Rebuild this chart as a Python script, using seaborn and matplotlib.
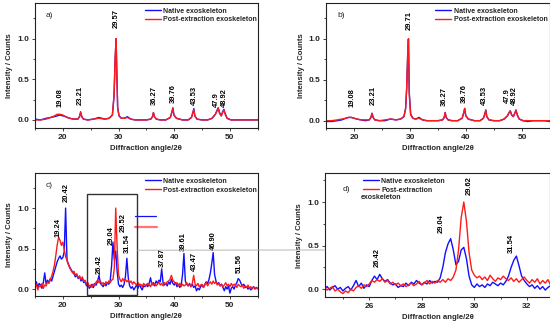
import numpy as np
import matplotlib
matplotlib.use("Agg")
import matplotlib.pyplot as plt
from matplotlib.patches import Rectangle, ConnectionPatch
from matplotlib.ticker import MultipleLocator
import seaborn as sns

BLUE = "#1010ff"
RED = "#ff1a1a"

# --- panels a) and b): shared 2theta grid (denser around the sharp reflections)
ab_x = [15, 16, 17, 17.8, 18.5, 19, 19.5, 20, 20.5, 21.2,
        22, 22.7, 23.0, 23.2, 23.4, 23.7, 24.5, 25.5, 26.5, 27.5,
        28.3, 28.9, 29.2, 29.4, 29.57, 29.71, 29.85, 30.1, 30.5, 31,
        31.6, 32.2, 33, 34, 35, 35.8, 36.1, 36.27, 36.45, 36.8,
        37.5, 38.5, 39.3, 39.6, 39.76, 39.95, 40.4, 41.5, 42.5, 43.1,
        43.35, 43.53, 43.7, 44.1, 45, 46, 46.8, 47.4, 47.7, 47.9,
        48.15, 48.45, 48.7, 48.92, 49.15, 49.5, 50.2, 51, 52, 53,
        54, 55]

a_native = [0.01, 0.00, 0.02, 0.03, 0.04, 0.05, 0.06, 0.05, 0.04, 0.02,
            0.01, 0.01, 0.04, 0.10, 0.04, 0.01, 0.00, 0.01, 0.03, 0.01,
            0.02, 0.06, 0.30, 0.75, 1.00, 0.55, 0.15, 0.05, 0.02, 0.02,
            0.04, 0.01, 0.00, 0.00, 0.00, 0.01, 0.04, 0.09, 0.04, 0.01,
            0.00, 0.00, 0.03, 0.10, 0.15, 0.06, 0.02, 0.00, 0.00, 0.03,
            0.09, 0.14, 0.05, 0.01, 0.00, 0.00, 0.02, 0.07, 0.12, 0.15,
            0.09, 0.05, 0.10, 0.13, 0.08, 0.02, 0.00, 0.00, 0.00, 0.00,
            0.00, 0.00]
a_post = [0.00, 0.00, 0.01, 0.03, 0.05, 0.07, 0.07, 0.06, 0.04, 0.02,
          0.01, 0.01, 0.04, 0.09, 0.04, 0.01, 0.00, 0.01, 0.02, 0.01,
          0.02, 0.06, 0.30, 0.78, 1.00, 0.50, 0.14, 0.05, 0.02, 0.02,
          0.03, 0.01, 0.00, 0.00, 0.00, 0.01, 0.04, 0.09, 0.04, 0.01,
          0.00, 0.00, 0.03, 0.10, 0.14, 0.06, 0.02, 0.00, 0.00, 0.03,
          0.09, 0.13, 0.05, 0.01, 0.00, 0.00, 0.02, 0.07, 0.11, 0.14,
          0.08, 0.05, 0.09, 0.12, 0.07, 0.02, 0.00, 0.00, 0.00, 0.00,
          0.00, 0.00]
b_native = [-0.01, -0.01, 0.00, 0.01, 0.03, 0.04, 0.04, 0.03, 0.02, 0.01,
            0.00, 0.01, 0.04, 0.09, 0.04, 0.01, 0.00, 0.00, 0.02, 0.01,
            0.02, 0.05, 0.15, 0.40, 0.80, 1.00, 0.35, 0.08, 0.03, 0.02,
            0.04, 0.01, 0.00, 0.00, 0.00, 0.01, 0.04, 0.10, 0.04, 0.01,
            0.00, 0.00, 0.03, 0.10, 0.15, 0.06, 0.02, 0.00, 0.00, 0.03,
            0.08, 0.13, 0.05, 0.01, 0.00, 0.00, 0.02, 0.06, 0.10, 0.12,
            0.07, 0.05, 0.09, 0.13, 0.07, 0.02, 0.00, -0.01, 0.00, 0.00,
            0.00, -0.01]
b_post = [0.00, 0.00, 0.01, 0.02, 0.03, 0.04, 0.04, 0.03, 0.02, 0.01,
          0.01, 0.01, 0.04, 0.09, 0.04, 0.01, 0.00, 0.01, 0.02, 0.01,
          0.02, 0.05, 0.15, 0.42, 0.82, 1.00, 0.32, 0.07, 0.03, 0.02,
          0.03, 0.01, 0.00, 0.00, 0.00, 0.01, 0.04, 0.10, 0.04, 0.01,
          0.00, 0.00, 0.03, 0.10, 0.15, 0.06, 0.02, 0.00, 0.00, 0.03,
          0.08, 0.13, 0.05, 0.01, 0.00, 0.00, 0.02, 0.06, 0.10, 0.12,
          0.07, 0.05, 0.09, 0.13, 0.07, 0.02, 0.00, 0.00, 0.00, 0.00,
          0.00, 0.00]

# --- panel c): 15..55 in 0.25 deg steps, one row per degree
c_x = 15 + 0.25 * np.arange(161)
c_native = [0.04, 0.09, 0.02, 0.07,  0.05, 0.01, 0.08, 0.20,  0.06, 0.11, 0.08, 0.13,
            0.10, 0.16, 0.22, 0.28,  0.34, 0.38, 0.41, 0.37,  0.39, 0.46, 1.00, 0.36,
            0.31, 0.27, 0.24, 0.21,  0.19, 0.15, 0.18, 0.13,  0.16, 0.10, 0.13, 0.08,
            0.09, 0.04, 0.06, 0.01,  0.03, 0.06, 0.02, 0.07,  0.05, 0.10, 0.17, 0.07,
            0.05, 0.03, 0.07, 0.04,  0.08, 0.06, 0.10, 0.28,  0.58, 0.36, 0.47, 0.22,
            0.06, 0.03, 0.05, 0.02,  0.06, 0.16, 0.38, 0.14,  0.04, 0.01, 0.03, -0.01,
            0.02, 0.05, 0.01, 0.06,  0.02, -0.01, 0.04, 0.03,  0.06, 0.03, 0.07, 0.14,
            0.05, 0.08, 0.04, 0.10,  0.07, 0.11, 0.09, 0.25,  0.08, 0.05, 0.07, 0.04,
            0.09, 0.06, 0.12, 0.07,  0.05, 0.08, 0.03, 0.06,  0.02, 0.05, 0.18, 0.44,
            0.10, 0.06, 0.04, 0.07,  0.03, 0.06, 0.02, 0.04,  -0.02, 0.01, -0.01, 0.03,
            0.05, 0.02, 0.06, 0.09,  0.07, 0.12, 0.20, 0.32,  0.45, 0.18, 0.10, 0.06,
            0.08, 0.04, 0.06, 0.02,  -0.02, 0.03, 0.00, 0.04,  -0.05, 0.01, 0.03, 0.00,
            0.05, 0.08, 0.13, 0.11,  0.07, 0.04, 0.06, 0.02,  0.03, 0.00, 0.02, -0.01,
            0.01, 0.03, 0.00, 0.02,  0.01]
c_post = [0.02, 0.06, -0.01, 0.04,  0.03, 0.07, 0.01, 0.05,  0.04, 0.09, 0.07, 0.12,
          0.16, 0.22, 0.30, 0.42,  0.55, 0.64, 0.60, 0.54,  0.58, 0.49, 0.40, 0.35,
          0.30, 0.26, 0.23, 0.20,  0.22, 0.17, 0.19, 0.14,  0.16, 0.12, 0.15, 0.10,
          0.11, 0.06, 0.08, 0.03,  0.05, 0.02, 0.06, 0.04,  0.09, 0.11, 0.08, 0.10,
          0.06, 0.08, 0.05, 0.09,  0.07, 0.10, 0.08, 0.11,  0.12, 0.26, 1.00, 0.52,
          0.18, 0.12, 0.09, 0.13,  0.10, 0.12, 0.09, 0.11,  0.08, 0.10, 0.06, 0.09,
          0.07, 0.05, 0.08, 0.04,  0.06, 0.03, 0.07, 0.05,  0.04, 0.07, 0.05, 0.03,
          0.08, 0.05, 0.07, 0.04,  0.06, 0.09, 0.05, 0.07,  0.04, 0.08, 0.06, 0.09,
          0.10, 0.12, 0.17, 0.11,  0.09, 0.06, 0.08, 0.04,  0.07, 0.03, 0.06, 0.04,
          0.05, 0.08, 0.04, 0.06,  0.03, 0.07, 0.17, 0.06,  0.04, 0.07, 0.03, 0.05,
          0.06, 0.02, 0.05, 0.08,  0.04, 0.07, 0.09, 0.06,  0.10, 0.07, 0.09, 0.05,
          0.07, 0.04, 0.06, 0.03,  0.05, 0.08, 0.04, 0.06,  0.03, 0.07, 0.04, 0.06,
          0.05, 0.02, 0.06, 0.04,  0.03, 0.05, 0.01, 0.04,  0.02, 0.05, 0.01, 0.03,
          0.00, 0.03, 0.01, 0.02,  0.00]

# --- panel d): zoom 24.3..33.4 in 0.1 deg steps
d_x = np.round(24.3 + 0.1 * np.arange(92), 2)
d_native = [0.01, 0.03, -0.01, 0.02, 0.04, 0.00, 0.02, -0.02, 0.01, 0.03,
            -0.01, 0.04, 0.10, 0.03, 0.07, 0.01, 0.05, 0.03, 0.10, 0.15,
            0.11, 0.17, 0.12, 0.09, 0.11, 0.07, 0.05, 0.06, 0.02, 0.04,
            0.03, 0.07, 0.04, 0.08, 0.06, 0.10, 0.07, 0.05, 0.08, 0.06,
            0.10, 0.07, 0.09, 0.08, 0.13, 0.25, 0.42, 0.52, 0.58, 0.45,
            0.28, 0.32, 0.45, 0.48, 0.35, 0.15, 0.05, 0.02, 0.06, 0.03,
            0.05, 0.02, 0.06, 0.04, 0.08, 0.06, 0.04, 0.07, 0.05, 0.09,
            0.15, 0.25, 0.33, 0.38, 0.27, 0.15, 0.10, 0.06, 0.03, 0.05,
            0.01, 0.04, 0.00, 0.03, -0.01, 0.02, 0.04, 0.01, 0.03, -0.01,
            0.02, -0.01]
d_post = [0.02, -0.01, 0.01, 0.03, -0.02, 0.00, -0.03, -0.05, -0.02, -0.04,
          0.00, -0.02, 0.02, 0.04, 0.01, 0.05, 0.03, 0.06, 0.10, 0.08,
          0.11, 0.09, 0.12, 0.08, 0.10, 0.06, 0.08, 0.05, 0.07, 0.04,
          0.06, 0.03, 0.05, 0.07, 0.04, 0.06, 0.09, 0.05, 0.07, 0.10,
          0.06, 0.09, 0.07, 0.10, 0.08, 0.11, 0.08, 0.12, 0.10, 0.14,
          0.22, 0.45, 0.82, 1.00, 0.78, 0.42, 0.22, 0.16, 0.13, 0.15,
          0.11, 0.14, 0.10, 0.16, 0.12, 0.09, 0.13, 0.11, 0.15, 0.12,
          0.10, 0.13, 0.09, 0.12, 0.08, 0.11, 0.14, 0.10, 0.07, 0.11,
          0.08, 0.12, 0.06, 0.10, 0.07, 0.11, 0.05, 0.09, 0.06, 0.08,
          0.04, 0.07]

# peak annotations: text, label x, label bottom (intensity units)
a_peaks = ["19.08", "23.21", "29.57", "36.27", "39.76", "43.53", "47.9", "48.92"]
a_peak_x = [19.5, 23.2, 29.6, 36.4, 39.8, 43.6, 47.6, 49.1]
a_peak_y = [0.16, 0.185, 1.13, 0.185, 0.21, 0.185, 0.16, 0.16]
b_peaks = ["19.08", "23.21", "29.71", "36.27", "39.76", "43.53", "47.9", "48.92"]
b_peak_x = [19.6, 23.4, 29.8, 36.1, 39.7, 43.3, 47.4, 48.6]
b_peak_y = [0.17, 0.195, 1.11, 0.18, 0.22, 0.195, 0.22, 0.195]
c_peaks = ["19.24", "20.42", "26.42", "29.04", "29.52", "31.54",
           "37.87", "39.61", "43.47", "46.90", "51.56"]
c_peak_x = [19.2, 20.7, 26.6, 28.7, 30.8, 31.6, 37.9, 41.6, 43.6, 47.1, 51.6]
c_peak_y = [0.64, 1.07, 0.19, 0.55, 0.70, 0.44, 0.27, 0.47, 0.22, 0.48, 0.20]
d_peaks = ["26.42", "29.04", "29.62", "31.54"]
d_peak_x = [26.3, 28.75, 29.8, 31.4]
d_peak_y = [0.25, 0.64, 1.08, 0.41]

sns.set_theme(style="white")
plt.rcParams["font.family"] = ["Liberation Sans", "DejaVu Sans"]

fig = plt.figure(figsize=(5.5, 3.25), dpi=100)
ax_a = fig.add_axes([0.0636, 0.606, 0.405, 0.385])
ax_b = fig.add_axes([0.593, 0.606, 0.407, 0.385])
ax_c = fig.add_axes([0.0636, 0.089, 0.405, 0.378])
ax_d = fig.add_axes([0.591, 0.086, 0.409, 0.381])

TICK_FS = 6.0
LABEL_FS = 5.6
PEAK_FS = 5.4
LEG_FS = 5.0


def draw_panel(ax, x, native, post, peaks, px, py, xlim, ylim, major, minor):
    sns.lineplot(x=x, y=native, color=BLUE, lw=1.0, ax=ax, label="Native exoskeleton")
    sns.lineplot(x=x, y=post, color=RED, lw=1.0, ax=ax, label="Post-extraction exoskeleton")
    for t, xx, yy in zip(peaks, px, py):
        ax.text(xx, yy, t, rotation=90, ha="center", va="bottom",
                fontsize=PEAK_FS, fontweight="bold", color="black")
    ax.set_xlim(*xlim)
    ax.set_ylim(*ylim)
    ax.xaxis.set_major_locator(MultipleLocator(major))
    ax.xaxis.set_minor_locator(MultipleLocator(minor))
    ax.yaxis.set_major_locator(MultipleLocator(0.5))
    ax.yaxis.set_minor_locator(MultipleLocator(0.25))
    ax.tick_params(which="both", direction="out", bottom=True, left=True,
                   labelsize=TICK_FS, pad=1.5, width=0.6)
    ax.tick_params(which="major", length=2.5)
    ax.tick_params(which="minor", length=1.5)
    for lab in ax.get_xticklabels() + ax.get_yticklabels():
        lab.set_fontweight("bold")
    for sp in ax.spines.values():
        sp.set_color("#222222")
        sp.set_linewidth(0.8)
    ax.set_xlabel("Diffraction angle/2θ", fontsize=LABEL_FS, fontweight="bold", labelpad=3)
    ax.set_ylabel("Intensity / Counts", fontsize=LABEL_FS, fontweight="bold", labelpad=3)


draw_panel(ax_a, ab_x, a_native, a_post, a_peaks, a_peak_x, a_peak_y,
           (15, 55), (-0.1, 1.44), 10, 5)
draw_panel(ax_b, ab_x, b_native, b_post, b_peaks, b_peak_x, b_peak_y,
           (15, 55), (-0.09, 1.44), 10, 5)
draw_panel(ax_c, c_x, c_native, c_post, c_peaks, c_peak_x, c_peak_y,
           (15, 55), (-0.086, 1.43), 10, 5)
draw_panel(ax_d, d_x, d_native, d_post, d_peaks, d_peak_x, d_peak_y,
           (24.32, 32.88), (-0.09, 1.33), 2, 1)

leg_kw = dict(frameon=False, loc="upper left", borderaxespad=0, handlelength=2.3,
              handletextpad=0.4, labelspacing=0.25,
              prop={"size": LEG_FS, "weight": "bold"})
ax_a.legend(bbox_to_anchor=(0.48, 0.985), **leg_kw)
ax_b.legend(bbox_to_anchor=(0.475, 0.985), **leg_kw)
ax_c.legend(bbox_to_anchor=(0.48, 0.985), **leg_kw)
h, _ = ax_d.get_legend_handles_labels()
ax_d.legend(h, ["Native exoskeleton", "Post-extraction"],
            bbox_to_anchor=(0.155, 0.985), **leg_kw)
ax_d.text(0.16, 0.80, "exoskeleton", transform=ax_d.transAxes, fontsize=LEG_FS,
          fontweight="bold", va="center", ha="left")

for ax, tag, pos in [(ax_a, "a)", (0.05, 0.9)), (ax_b, "b)", (0.05, 0.9)),
                     (ax_c, "c)", (0.05, 0.9)), (ax_d, "d)", (0.08, 0.87))]:
    ax.text(*pos, tag, transform=ax.transAxes, fontsize=6, va="center", ha="left")

# zoom frame in c) and leftover legend strokes
ax_c.add_patch(Rectangle((24.3, -0.07), 9.1, 1.24, fill=False,
                         edgecolor="#333333", lw=1.0, zorder=5))
ax_c.plot([32.9, 36.8], [0.9, 0.9], color=BLUE, lw=0.9)
ax_c.plot([33.0, 37.0], [0.77, 0.77], color=RED, lw=1.6, alpha=0.6)

con = ConnectionPatch(xyA=(33.4, 0.48), coordsA=ax_c.transData,
                      xyB=(24.32, 0.45), coordsB=ax_d.transData,
                      color="#aaaaaa", lw=0.6)
fig.add_artist(con)

fig.savefig("out.png", dpi=100)
